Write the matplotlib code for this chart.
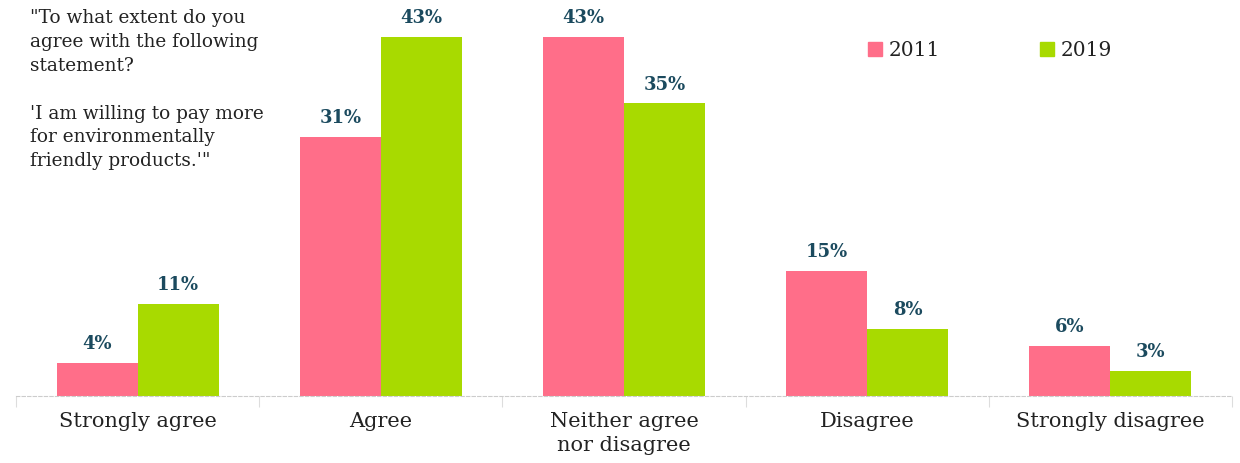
import numpy as np
import matplotlib.pyplot as plt

categories = ["Strongly agree", "Agree", "Neither agree\nnor disagree", "Disagree", "Strongly disagree"]
values_2011 = [4, 31, 43, 15, 6]
values_2019 = [11, 43, 35, 8, 3]
series_names = ["2011", "2019"]

pink = "#ff6e89"
green = "#a8da00"
label_color = "#1b4a5e"
serif = ["DejaVu Serif"]

fig = plt.figure(figsize=(12.4, 4.64), dpi=100)
ax = fig.add_axes([16 / 1240, 67 / 464, 1216 / 1240, 397 / 464])

x = np.arange(len(categories))
w = 0.333
b1 = ax.bar(x - w / 2, values_2011, w, color=pink)
b2 = ax.bar(x + w / 2, values_2019, w, color=green)

for bars in (b1, b2):
    for rect in bars:
        h = rect.get_height()
        ax.text(rect.get_x() + rect.get_width() / 2, h + 1.3, f"{h:.0f}%",
                ha="center", va="bottom", fontsize=13, fontweight="bold",
                color=label_color, family=serif)

ax.set_xlim(-0.5, len(categories) - 0.5)
ax.set_ylim(0, 47.5)
ax.set_yticks([])
for s in ["top", "right", "left"]:
    ax.spines[s].set_visible(False)
ax.spines["bottom"].set_color("#cccccc")
ax.spines["bottom"].set_linestyle((0, (3, 2)))
ax.spines["bottom"].set_linewidth(0.8)

ax.set_xticks(x)
ax.set_xticklabels(categories, family=serif, fontsize=15, color="#222222",
                   linespacing=1.3)
ax.tick_params(axis="x", which="major", length=0, pad=11)
ax.set_xticks(np.arange(-0.5, len(categories)), minor=True)
ax.tick_params(axis="x", which="minor", length=8, color="#dddddd", width=0.8)

fig.text(30 / 1240, 1 - 9 / 464,
         "\"To what extent do you\nagree with the following\nstatement?\n\n"
         "'I am willing to pay more\nfor environmentally\nfriendly products.'\"",
         ha="left", va="top", fontsize=13.3, family=serif, color="#222222",
         linespacing=1.42)

# legend
for name, col, lx in zip(series_names, [pink, green], [868, 1040]):
    fig.patches.append(plt.Rectangle((lx / 1240, 1 - 57 / 464), 14 / 1240, 14 / 464,
                                     transform=fig.transFigure, color=col))
    fig.text((lx + 21) / 1240, 1 - 50 / 464, name, ha="left", va="center",
             fontsize=14.5, family=serif, color="#222222")

fig.savefig("out.png", dpi=100)
